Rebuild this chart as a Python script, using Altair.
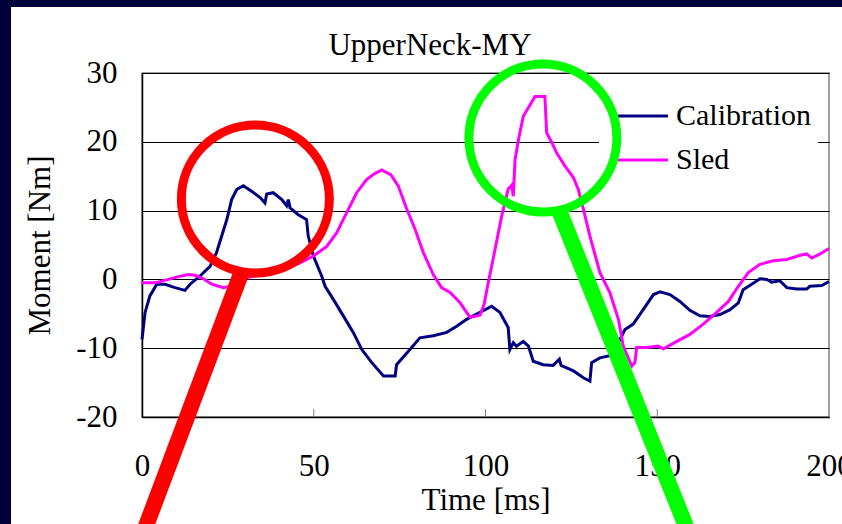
import altair as alt
import pandas as pd

# ---- measured series -------------------------------------------------------
cal_time = [0, 0.9, 2.3, 4.3, 6.7, 9.6, 12.5, 14.0, 16.9, 19.8, 21.7, 23.2, 24.7,
            26.1, 27.6, 29.5, 31.9, 34.4, 35.8, 36.3, 38.2, 40.7, 42.1, 42.6, 43.1,
            45.5, 47.9, 48.4, 49.9, 52.3, 53.3, 55.7, 58.6, 61.5, 64.0, 66.9, 70.3,
            73.7, 74.1, 78.0, 80.9, 84.8, 88.7, 91.6, 94.5, 98.4, 101.8, 104.2,
            106.6, 107.1, 108.1, 109.0, 111.0, 112.5, 113.9, 116.8, 119.7, 121.5,
            122.0, 125.6, 128.5, 130.4, 130.9, 133.3, 136.2, 139.2, 140.6, 143.0,
            145.9, 148.9, 150.8, 153.7, 156.6, 159.5, 162.4, 165.3, 168.3, 171.2,
            173.6, 175.0, 177.5, 179.9, 181.9, 183.3, 185.7, 187.7, 190.6, 193.5,
            194.4, 197.9, 200.0]
cal_moment = [-8.7, -4.8, -2.4, -0.7, -0.7, -1.2, -1.6, -0.7, 0.5, 1.9, 3.9, 6.3,
              8.7, 11.6, 13.1, 13.6, 12.8, 11.9, 11.1, 12.4, 12.6, 11.6, 10.7, 11.6,
              10.4, 9.4, 8.7, 6.3, 3.4, 0.5, -1.0, -2.9, -5.3, -7.7, -10.2, -12.1,
              -14.05, -14.05, -12.4, -10.2, -8.5, -8.2, -7.7, -6.8, -5.8, -4.8, -3.9,
              -4.8, -7.0, -10.2, -9.2, -9.7, -9.0, -9.7, -11.9, -12.4, -12.5, -11.6,
              -12.5, -13.3, -14.3, -14.8, -12.1, -11.4, -11.1, -8.7, -7.3, -6.5,
              -4.4, -2.2, -1.8, -2.2, -3.2, -4.5, -5.3, -5.4, -5.1, -4.4, -3.4, -1.5,
              -0.7, 0.1, 0.0, -0.4, -0.2, -1.2, -1.4, -1.4, -1.0, -0.9, -0.3]

sled_time = [0, 3.8, 7.7, 10.6, 13.5, 15.4, 17.9, 20.3, 23.7, 26.5, 30.0, 34.0,
             38.0, 42.0, 46.0, 49.9, 53.8, 56.7, 59.6, 62.5, 65.4, 67.5, 69.8, 72.5,
             74.6, 77.1, 79.5, 81.9, 84.8, 87.2, 89.7, 92.6, 95.5, 98.4, 99.6, 100.8,
             102.8, 104.7, 106.6, 107.6, 108.1, 108.6, 109.6, 111.0, 113.0, 114.4,
             117.3, 117.8, 119.3, 120.7, 123.1, 125.6, 127.0, 128.5, 130.4, 133.3,
             136.2, 138.7, 140.1, 142.6, 143.5, 144.0, 146.9, 150.3, 151.8, 155.7,
             159.5, 163.4, 167.3, 170.7, 173.6, 176.5, 179.9, 183.8, 187.7, 191.6,
             193.5, 195.0, 197.4, 200.0]
sled_moment = [-0.5, -0.5, 0.0, 0.4, 0.7, 0.6, 0.1, -0.7, -1.2, -0.9, 0.2, 0.6, 1.0,
               1.6, 2.4, 3.4, 4.8, 6.8, 9.7, 12.6, 14.5, 15.3, 15.9, 15.2, 13.6, 10.2,
               7.3, 3.9, 0.7, -1.2, -1.9, -3.4, -5.5, -5.2, -3.6, -0.5, 4.4, 9.2, 13.1,
               13.7, 12.1, 17.4, 20.3, 23.7, 25.4, 26.6, 26.6, 21.3, 19.9, 18.4, 16.5,
               14.8, 13.1, 10.2, 6.3, 1.0, -1.9, -5.8, -9.7, -12.6, -12.1, -9.9, -9.9,
               -9.7, -10.1, -9.0, -8.0, -6.5, -4.8, -3.2, -1.0, 1.0, 2.2, 2.7, 2.9, 3.5,
               3.7, 3.1, 3.7, 4.5]

series_names = ["Calibration", "Sled"]
series_colors = ["#000080", "#FF00FF"]
chart_title = "UpperNeck-MY"

x_ticks = [0, 50, 100, 150, 200]
x_inner_ticks = [50, 100, 150]
y_ticks = [-20, -10, 0, 10, 20, 30]

# highlight circles (centre in data units) and their pointer bars
ring_x = [33.0, 116.7]
ring_y = [11.7, 20.55]
ring_colors = ["#FF0000", "#00FF00"]
bar_x1 = [29.4, 121.3]
bar_y1 = [1.6, 10.2]
bar_x2 = [-0.3, 159.9]
bar_y2 = [-37.8, -37.8]

# ---- tables ---------------------------------------------------------------
df = pd.concat([
    pd.DataFrame({"time": cal_time, "moment": cal_moment, "series": series_names[0]}),
    pd.DataFrame({"time": sled_time, "moment": sled_moment, "series": series_names[1]}),
], ignore_index=True)
rings = pd.DataFrame({"x": ring_x, "y": ring_y, "c": ring_colors})
bars = pd.DataFrame({"x": bar_x1, "y": bar_y1, "x2": bar_x2, "y2": bar_y2, "c": ring_colors})
ticks = pd.DataFrame({"t": x_inner_ticks})

FONT = "Liberation Serif"
FS = 31
W, H = 687, 344
NAVY = "#00003A"
PLAIN_MINUS = "'' + datum.value"

x_scale = alt.Scale(domain=[0, 200], nice=False, zero=False)
y_scale = alt.Scale(domain=[-20, 30], nice=False, zero=False)

x_enc = alt.X(
    "time:Q", scale=x_scale,
    axis=alt.Axis(values=x_ticks, title="Time [ms]", ticks=False, grid=False,
                  labelPadding=34, labelFontSize=FS, labelFont=FONT, labelColor="black",
                  labelExpr=PLAIN_MINUS,
                  domainColor="black", domainWidth=1.5, labelFlush=False,
                  titleFont=FONT, titleFontSize=FS, titleFontWeight="normal",
                  titleColor="black", titleX=W / 2, titleY=83,
                  titleBaseline="middle", titleAlign="center"),
)
y_enc = alt.Y(
    "moment:Q", scale=y_scale,
    axis=alt.Axis(values=y_ticks, title="Moment [Nm]", ticks=False, grid=True,
                  gridColor="black", gridWidth=1, labelPadding=25, labelFontSize=FS,
                  labelFont=FONT, labelColor="black", domainColor="black",
                  labelExpr=PLAIN_MINUS,
                  domainWidth=1.5, labelFlush=False,
                  titleFont=FONT, titleFontSize=FS, titleFontWeight="normal",
                  titleColor="black", titleX=-102, titleY=H / 2, titleAngle=270,
                  titleBaseline="middle", titleAlign="center"),
)

lines = alt.Chart(df).mark_line(strokeWidth=3).encode(
    x=x_enc, y=y_enc,
    color=alt.Color("series:N", scale=alt.Scale(domain=series_names, range=series_colors),
                    legend=None),
)

tick_marks = alt.Chart(ticks).mark_rule(color="#808080", strokeWidth=1).encode(
    x=alt.X("t:Q", scale=x_scale), y=alt.value(H), y2=alt.value(H - 8)
)

# chart heading, centred over the whole slide panel rather than the plot
heading = alt.Chart(pd.DataFrame({"label": [chart_title]})).mark_text(
    font=FONT, fontSize=FS, color="black", align="center", baseline="alphabetic"
).encode(text="label:N", x=alt.value(288), y=alt.value(-18))

# legend: white box, sample strokes and labels
legend_layers = [
    alt.Chart(pd.DataFrame({"k": [0]})).mark_rect(color="white").encode(
        x=alt.value(457), x2=alt.value(676), y=alt.value(19), y2=alt.value(112)
    )
]
for i, (name, col) in enumerate(zip(series_names, series_colors)):
    row_y = 43 + i * 44
    entry = pd.DataFrame({"series": [name]})
    legend_layers.append(
        alt.Chart(entry).mark_rule(color=col, strokeWidth=3).encode(
            x=alt.value(476), x2=alt.value(526), y=alt.value(row_y)
        )
    )
    legend_layers.append(
        alt.Chart(entry).mark_text(font=FONT, fontSize=30, color="black", align="left",
                                   baseline="middle").encode(
            text="series:N", x=alt.value(534), y=alt.value(row_y)
        )
    )

ring_marks = alt.Chart(rings).mark_point(shape="circle", filled=False, size=21900,
                                         strokeWidth=9, opacity=1).encode(
    x=alt.X("x:Q", scale=x_scale), y=alt.Y("y:Q", scale=y_scale),
    color=alt.Color("c:N", scale=None),
)
bar_marks = alt.Chart(bars).mark_rule(strokeWidth=16, strokeCap="butt").encode(
    x=alt.X("x:Q", scale=x_scale), y=alt.Y("y:Q", scale=y_scale),
    x2="x2:Q", y2="y2:Q",
    color=alt.Color("c:N", scale=None),
)

# dark slide frame along the top and left edges
frame = pd.DataFrame({"k": [0]})
frame_top = alt.Chart(frame).mark_rect(color=NAVY).encode(
    x=alt.value(-142), x2=alt.value(W + 13), y=alt.value(-73), y2=alt.value(-66)
)
frame_left = alt.Chart(frame).mark_rect(color=NAVY).encode(
    x=alt.value(-142), x2=alt.value(-131), y=alt.value(-73), y2=alt.value(H + 107)
)

chart = alt.layer(
    lines, tick_marks, heading, *legend_layers, ring_marks, bar_marks,
    frame_top, frame_left
).properties(
    width=W, height=H,
    autosize=alt.AutoSizeParams(type="none"),
    padding={"left": 142, "top": 73, "right": 13, "bottom": 107},
    background="white",
).configure_view(stroke="#808080", strokeWidth=1.5)

chart.save("out.html", embed_options={"renderer": "svg", "actions": False})
